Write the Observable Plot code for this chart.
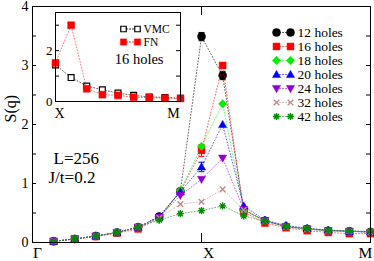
<!DOCTYPE html>
<html><head><meta charset="utf-8">
<script src="https://cdn.jsdelivr.net/npm/d3@7"></script>
<script src="https://cdn.jsdelivr.net/npm/@observablehq/plot@0.6"></script>
<style>
body{margin:0;background:white;}
#wrap{position:relative;width:374px;height:261px;overflow:hidden;}
#wrap svg{position:absolute;}
</style></head><body><div id="wrap"></div>
<script>
// ---- data ----
const qIndex = [1,2,3,4,5,6,7,8,9,10,11,12,13,14,15,16];
const seriesNames = ["12 holes","16 holes","18 holes","20 holes","24 holes","32 holes","42 holes"];
const holes12 = [0.02,0.06,0.11,0.17,0.26,0.44,0.87,3.49,2.83,0.55,0.37,0.27,0.23,0.20,0.19,0.18];
const holes16 = [0.02,0.06,0.10,0.16,0.23,0.42,0.86,1.56,3.00,0.52,0.33,0.25,0.20,0.17,0.15,0.15];
const holes18 = [0.02,0.06,0.11,0.17,0.26,0.40,0.88,1.63,2.35,0.55,0.37,0.27,0.23,0.20,0.19,0.18];
const holes20 = [0.02,0.06,0.11,0.17,0.26,0.44,0.86,1.28,2.00,0.62,0.38,0.29,0.24,0.21,0.19,0.18];
const holes24 = [0.02,0.06,0.11,0.17,0.26,0.43,0.80,1.07,1.43,0.56,0.37,0.27,0.23,0.20,0.19,0.17];
const holes32 = [0.02,0.06,0.11,0.17,0.26,0.42,0.65,0.69,0.90,0.55,0.36,0.27,0.23,0.20,0.19,0.18];
const holes42 = [0.02,0.06,0.11,0.17,0.26,0.38,0.49,0.54,0.62,0.45,0.36,0.27,0.24,0.21,0.20,0.19];
const err12 = [0,0,0,0,0,0,0,0.07,0.07,0,0,0,0,0,0,0];
const err16 = [0,0,0,0,0,0,0,0.10,0,0,0,0,0,0,0,0];
const err20 = [0,0,0,0,0,0,0,0.08,0,0,0,0,0,0,0,0];
const seriesValues = [holes12,holes16,holes18,holes20,holes24,holes32,holes42];
const seriesErrors = [err12,err16,qIndex.map(()=>0),err20,qIndex.map(()=>0),qIndex.map(()=>0),qIndex.map(()=>0)];
const seriesColors = ["#000000","#ff0000","#00ee00","#0000ff","#9400d3","#bc8f8f","#008b00"];
const xTickPos = [0,8,16];
const xTickLabels = ["Γ","X","M"];
const yTicks = [0,1,2,3,4];
const yMinorTicks = [0,0.5,1,1.5,2,2.5,3,3.5,4];
const noteLines = ["L=256","J/t=0.2"];

const insetQ = [8,9,10,11,12,13,14,15,16];
const insetNames = ["VMC","FN"];
const vmc = [1.44,0.94,0.61,0.46,0.33,0.24,0.18,0.16,0.13];
const fn  = [1.52,3.00,0.50,0.27,0.24,0.17,0.15,0.13,0.12];
const insetYTicks = [0,1,2,3];
const insetYLabels = [0,2];
const insetXTickPos = [8,16];
const insetXLabels = ["X","M"];
const insetNote = "16 holes";

// ---- symbols ----
const rOf = s => Math.sqrt(s/Math.PI);
const sym = draw => ({draw});
const symDiamond = sym((c,s)=>{const r=rOf(s)*1.3;c.moveTo(0,-r);c.lineTo(r,0);c.lineTo(0,r);c.lineTo(-r,0);c.closePath();});
const symTriUp = sym((c,s)=>{const r=rOf(s)*1.25;c.moveTo(0,-r);c.lineTo(r,r*0.75);c.lineTo(-r,r*0.75);c.closePath();});
const symTriDown = sym((c,s)=>{const r=rOf(s)*1.25;c.moveTo(0,r);c.lineTo(r,-r*0.75);c.lineTo(-r,-r*0.75);c.closePath();});
const symTimes = sym((c,s)=>{const r=rOf(s);c.moveTo(-r,-r);c.lineTo(r,r);c.moveTo(r,-r);c.lineTo(-r,r);});
const symStar = sym((c,s)=>{const r=rOf(s);for(let k=0;k<4;k++){const a=k*Math.PI/4;c.moveTo(-r*Math.cos(a),-r*Math.sin(a));c.lineTo(r*Math.cos(a),r*Math.sin(a));}});
const symHBar = sym((c,s)=>{const r=rOf(s);c.moveTo(-r,0);c.lineTo(r,0);});

const seriesStyle = [
  {symbol:"circle", r:4, filled:true},
  {symbol:"square", r:3.9, filled:true},
  {symbol:symDiamond, r:3.2, filled:true},
  {symbol:symTriUp, r:3.3, filled:true},
  {symbol:symTriDown, r:3.3, filled:true},
  {symbol:symTimes, r:2.8, filled:false},
  {symbol:symStar, r:3.6, filled:false}
];

const font = "'Liberation Serif','Times New Roman',serif";
const dash = "1,2";
const intFmt = d3.format("d");

// ---- main plot ----
const W=374, H=261, mL=32, mR=4, mT=6, mB=19;
const innerW = W-mL-mR, innerH = H-mT-mB;

const seriesMarks = seriesNames.flatMap((name,i)=>{
  const rows = qIndex.map((q,j)=>({series:name, q, s:seriesValues[i][j], e:seriesErrors[i][j]}));
  const st = seriesStyle[i], col = seriesColors[i];
  const errRows = rows.filter(d=>d.e>0);
  return [
    Plot.line(rows,{x:"q",y:"s",stroke:col,strokeWidth:0.9,strokeDasharray:dash,strokeOpacity:0.65}),
    Plot.ruleX(errRows,{x:"q",y1:d=>d.s-d.e,y2:d=>d.s+d.e,stroke:col,strokeWidth:1}),
    Plot.dot(errRows,{x:"q",y:d=>d.s-d.e,symbol:symHBar,r:3,stroke:col,strokeWidth:1}),
    Plot.dot(errRows,{x:"q",y:d=>d.s+d.e,symbol:symHBar,r:3,stroke:col,strokeWidth:1}),
    Plot.dot(rows,{x:"q",y:"s",symbol:st.symbol,r:st.r,
      fill: st.filled?col:"none", stroke:col, strokeWidth: st.filled?0.5:1.4})
  ];
});

const xLabelDx = [5,7,-5];
const main = Plot.plot({
  width:W, height:H, marginLeft:mL, marginRight:mR, marginTop:mT, marginBottom:mB,
  x:{domain:[0,16], axis:null},
  y:{domain:[0,4], axis:null},
  style:{fontFamily:font, background:"white", color:"black"},
  marks:[
    Plot.tickY(yMinorTicks,{y:d=>d, insetRight:innerW-4, stroke:"black"}),
    Plot.tickY(yMinorTicks,{y:d=>d, insetLeft:innerW-4, stroke:"black"}),
    Plot.tickX([xTickPos[1]],{x:d=>d, insetBottom:innerH-9, stroke:"black"}),
    Plot.tickX([xTickPos[1]],{x:d=>d, insetTop:innerH-9, stroke:"black"}),
    Plot.axisY({ticks:yTicks, tickFormat:intFmt, tickSize:0, tickPadding:4, fontSize:14, label:null}),
    ...xTickPos.map((p,i)=>Plot.text([xTickLabels[i]],{x:()=>p, frameAnchor:"bottom", lineAnchor:"top", dy:4, dx:xLabelDx[i], fontSize:15.5})),
    Plot.text(["S(q)"],{frameAnchor:"left", rotate:-90, dx:-22, dy:-2, fontSize:16}),
    Plot.text([noteLines[0]],{frameAnchor:"top-left", textAnchor:"start", lineAnchor:"middle", dx:21, dy:152, fontSize:17}),
    Plot.text([noteLines[1]],{frameAnchor:"top-left", textAnchor:"start", lineAnchor:"middle", dx:16, dy:171, fontSize:17}),
    ...seriesMarks,
    Plot.frame({stroke:"black", strokeWidth:1})
  ]
});
main.style.left="0px"; main.style.top="0px";

// ---- main legend (rows on a linear index scale) ----
const legRows = seriesNames.flatMap((n,i)=>[0,1].map(k=>({n,k,i})));
const legend = Plot.plot({
  width:112, height:104, margin:0,
  x:{domain:[0,1], range:[14,28], axis:null},
  y:{domain:[0,6], range:[10,94], axis:null},
  style:{fontFamily:font, background:"transparent", overflow:"visible"},
  marks:[
    ...seriesNames.flatMap((n,i)=>{
      const rows = legRows.filter(d=>d.n===n), st=seriesStyle[i], col=seriesColors[i];
      return [
        Plot.line(rows,{x:"k",y:"i",stroke:col,strokeWidth:0.9,strokeDasharray:dash,strokeOpacity:0.7}),
        Plot.dot(rows,{x:"k",y:"i",symbol:st.symbol,r:st.r,fill:st.filled?col:"none",stroke:col,strokeWidth:st.filled?0.5:1.4})
      ];
    }),
    Plot.text(seriesNames,{x:()=>1,y:(d,i)=>i,dx:7,textAnchor:"start",lineAnchor:"middle",fontSize:13.5,fill:"black"})
  ]
});
legend.style.left="262px"; legend.style.top="22px";

// ---- inset ----
const insetRowsV = insetQ.map((q,j)=>({q,s:vmc[j]}));
const insetRowsF = insetQ.map((q,j)=>({q,s:fn[j]}));
const iW=200, iH=125, iL=55, iR=20, iT=12, iB=24;
const iInnerW = iW-iL-iR;
const inset = Plot.plot({
  width:iW, height:iH, marginLeft:iL, marginRight:iR, marginTop:iT, marginBottom:iB,
  x:{domain:[8,16], axis:null},
  y:{domain:[0,3.5], axis:null},
  style:{fontFamily:font, background:"transparent", overflow:"visible"},
  marks:[
    Plot.frame({fill:"white", stroke:"none"}),
    Plot.tickY(insetYTicks,{y:d=>d, insetRight:iInnerW-4, stroke:"black"}),
    Plot.tickY(insetYTicks,{y:d=>d, insetLeft:iInnerW-4, stroke:"black"}),
    Plot.axisY({ticks:insetYLabels, tickFormat:intFmt, tickSize:0, tickPadding:3, fontSize:13, label:null}),
    Plot.text([insetXLabels[0]],{x:()=>insetXTickPos[0], frameAnchor:"bottom", lineAnchor:"top", dy:7, dx:4, fontSize:14}),
    Plot.text([insetXLabels[1]],{x:()=>insetXTickPos[1], frameAnchor:"bottom", lineAnchor:"top", dy:7, dx:-7, fontSize:14}),
    Plot.line(insetRowsV,{x:"q",y:"s",stroke:"#000",strokeWidth:0.9,strokeDasharray:dash,strokeOpacity:0.7}),
    Plot.dot(insetRowsV,{x:"q",y:"s",symbol:"square",r:3.3,fill:"white",stroke:"#000",strokeWidth:1.2}),
    Plot.line(insetRowsF,{x:"q",y:"s",stroke:"#ff0000",strokeWidth:0.9,strokeDasharray:dash,strokeOpacity:0.6}),
    Plot.dot(insetRowsF,{x:"q",y:"s",symbol:"square",r:3.9,fill:"#ff0000",stroke:"#ff0000",strokeWidth:0.5}),
    Plot.text([insetNote],{frameAnchor:"top-right", textAnchor:"end", lineAnchor:"middle", dx:-17, dy:47, fontSize:14.5}),
    Plot.frame({stroke:"black", strokeWidth:1})
  ]
});
inset.style.left="0px"; inset.style.top="0px";

// ---- inset legend ----
const iLegRows = insetNames.flatMap((n,i)=>[0,1].map(k=>({n,k,i})));
const insetLegend = Plot.plot({
  width:70, height:30, margin:0,
  x:{domain:[0,1], range:[5,19], axis:null},
  y:{domain:[0,1], range:[5.5,18.5], axis:null},
  style:{fontFamily:font, background:"transparent", overflow:"visible"},
  marks:[
    Plot.line(iLegRows.filter(d=>d.i===0),{x:"k",y:"i",stroke:"#000",strokeWidth:0.9,strokeDasharray:dash}),
    Plot.dot(iLegRows.filter(d=>d.i===0),{x:"k",y:"i",symbol:"square",r:3.1,fill:"white",stroke:"#000",strokeWidth:1.2}),
    Plot.line(iLegRows.filter(d=>d.i===1),{x:"k",y:"i",stroke:"#ff0000",strokeWidth:0.9,strokeDasharray:dash}),
    Plot.dot(iLegRows.filter(d=>d.i===1),{x:"k",y:"i",symbol:"square",r:3.5,fill:"#ff0000",stroke:"#ff0000",strokeWidth:0.5}),
    Plot.text(insetNames,{x:()=>1,y:(d,i)=>i,dx:6,textAnchor:"start",lineAnchor:"middle",fontSize:11.5,fill:"black"})
  ]
});
insetLegend.style.left="118px"; insetLegend.style.top="23px";

const wrap = document.getElementById("wrap");
wrap.append(main, inset, insetLegend, legend);
</script></body></html>
